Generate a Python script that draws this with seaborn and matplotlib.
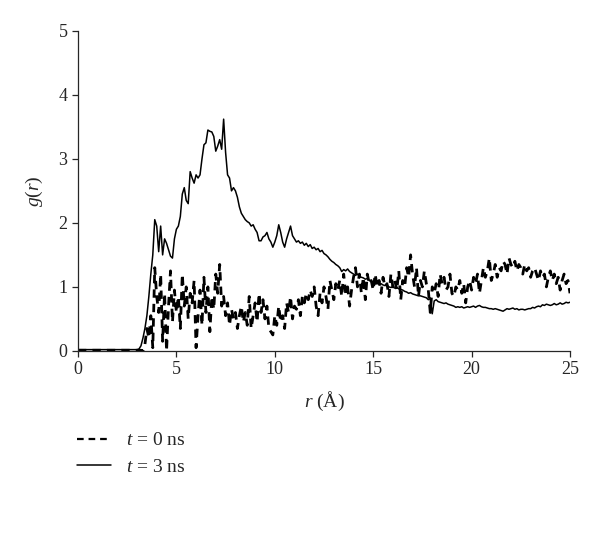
import numpy as np
import pandas as pd
import matplotlib
matplotlib.use("Agg")
import matplotlib.pyplot as plt
import seaborn as sns

# r grid in Å (0.0 .. 25.0, step 0.1)
r_values = np.round(np.arange(0, 251) * 0.1, 1)

# g(r) at t = 0 ns (one line per Å)
g_t0 = [
    0.01, 0.01, 0.01, 0.01, 0.01, 0.01, 0.01, 0.01, 0.01, 0.01,
    0.01, 0.01, 0.01, 0.01, 0.01, 0.01, 0.01, 0.01, 0.01, 0.01,
    0.01, 0.01, 0.01, 0.01, 0.01, 0.01, 0.01, 0.01, 0.01, 0.01,
    0.01, 0.01, 0.01, 0.00, 0.10, 0.35, 0.20, 0.55, 0.05, 1.30,
    0.85, 0.60, 1.20, 0.15, 0.90, 0.00, 0.70, 1.25, 0.45, 0.95,
    0.60, 0.85, 0.35, 1.20, 0.70, 1.00, 0.50, 0.90, 0.75, 1.10,
    0.05, 0.55, 0.95, 0.40, 1.15, 0.60, 1.00, 0.30, 0.85, 0.65,
    1.20, 0.90, 1.35, 0.70, 0.85, 0.55, 0.75, 0.40, 0.65, 0.50,
    0.60, 0.35, 0.55, 0.70, 0.45, 0.60, 0.40, 0.85, 0.35, 0.55,
    0.75, 0.45, 0.90, 0.60, 0.80, 0.50, 0.70, 0.35, 0.30, 0.25,
    0.55, 0.40, 0.70, 0.45, 0.55, 0.35, 0.75, 0.60, 0.85, 0.50,
    0.70, 0.65, 0.80, 0.55, 0.85, 0.75, 0.90, 0.80, 0.95, 0.85,
    1.00, 0.70, 0.55, 0.90, 0.75, 1.00, 0.85, 0.65, 1.10, 0.95,
    0.80, 1.05, 0.95, 1.10, 0.85, 1.20, 0.90, 1.00, 0.70, 0.95,
    1.15, 1.30, 1.00, 1.20, 0.90, 1.15, 0.80, 1.20, 1.05, 1.10,
    0.95, 1.20, 1.00, 1.10, 0.90, 1.15, 1.00, 1.05, 0.85, 1.20,
    1.00, 1.10, 0.95, 1.25, 0.80, 1.10, 1.00, 1.30, 1.15, 1.50,
    1.20, 1.00, 1.30, 0.85, 1.10, 1.00, 1.25, 1.05, 0.95, 0.60,
    1.00, 0.90, 1.05, 0.85, 1.20, 1.05, 1.15, 0.95, 1.00, 1.20,
    0.90, 0.85, 1.00, 0.95, 1.10, 0.90, 1.05, 0.75, 1.00, 1.10,
    0.95, 1.15, 1.05, 1.20, 0.90, 1.10, 1.30, 1.15, 1.25, 1.45,
    1.10, 1.20, 1.35, 1.15, 1.30, 1.25, 1.40, 1.35, 1.20, 1.45,
    1.35, 1.30, 1.40, 1.25, 1.35, 1.30, 1.20, 1.35, 1.25, 1.30,
    1.15, 1.25, 1.30, 1.20, 1.10, 1.25, 1.15, 1.20, 1.00, 1.15,
    1.25, 1.10, 1.20, 1.05, 1.15, 0.95, 1.10, 1.20, 1.05, 1.10,
    0.90,
]

# g(r) at t = 3 ns (one line per Å)
g_t3 = [
    0.02, 0.02, 0.02, 0.02, 0.02, 0.02, 0.02, 0.02, 0.02, 0.02,
    0.02, 0.02, 0.02, 0.02, 0.02, 0.02, 0.02, 0.02, 0.02, 0.02,
    0.02, 0.02, 0.02, 0.02, 0.02, 0.02, 0.02, 0.02, 0.02, 0.02,
    0.02, 0.03, 0.08, 0.20, 0.35, 0.55, 0.85, 1.20, 1.50, 2.05,
    1.95, 1.55, 1.95, 1.50, 1.75, 1.68, 1.58, 1.48, 1.45, 1.75,
    1.90, 1.95, 2.10, 2.45, 2.55, 2.35, 2.30, 2.80, 2.70, 2.62,
    2.75, 2.70, 2.75, 3.00, 3.22, 3.25, 3.45, 3.43, 3.42, 3.35,
    3.12, 3.20, 3.30, 3.15, 3.62, 3.10, 2.75, 2.70, 2.50, 2.55,
    2.50, 2.40, 2.25, 2.15, 2.10, 2.05, 2.02, 2.00, 1.95, 1.97,
    1.90, 1.85, 1.72, 1.72, 1.78, 1.80, 1.85, 1.75, 1.70, 1.62,
    1.70, 1.80, 1.97, 1.85, 1.70, 1.62, 1.75, 1.85, 1.95, 1.80,
    1.75, 1.70, 1.72, 1.68, 1.70, 1.65, 1.68, 1.63, 1.66, 1.60,
    1.62, 1.58, 1.60, 1.55, 1.57, 1.52, 1.50, 1.47, 1.43, 1.40,
    1.38, 1.35, 1.33, 1.30, 1.24, 1.27, 1.25, 1.28, 1.24, 1.22,
    1.20, 1.18, 1.20, 1.16, 1.15, 1.14, 1.12, 1.13, 1.10, 1.08,
    1.07, 1.05, 1.06, 1.04, 1.05, 1.03, 1.02, 1.03, 1.00, 0.99,
    1.00, 0.98, 0.99, 0.97, 0.96, 0.95, 0.93, 0.92, 0.90, 0.91,
    0.89, 0.88, 0.87, 0.86, 0.86, 0.85, 0.84, 0.83, 0.80, 0.82,
    0.58, 0.78, 0.80, 0.77, 0.76, 0.75, 0.74, 0.75, 0.73, 0.72,
    0.71, 0.70, 0.68, 0.69, 0.68, 0.69, 0.67, 0.68, 0.69, 0.68,
    0.69, 0.70, 0.68, 0.70, 0.71, 0.69, 0.68, 0.68, 0.67, 0.66,
    0.66, 0.65, 0.66, 0.65, 0.64, 0.63, 0.62, 0.64, 0.66, 0.65,
    0.66, 0.67, 0.65, 0.66, 0.64, 0.65, 0.65, 0.64, 0.65, 0.66,
    0.66, 0.68, 0.67, 0.69, 0.70, 0.69, 0.72, 0.71, 0.73, 0.72,
    0.71, 0.72, 0.74, 0.72, 0.73, 0.75, 0.73, 0.74, 0.76, 0.75,
    0.76,
]

x_ticks = [0, 5, 10, 15, 20, 25]
y_ticks = [0, 1, 2, 3, 4, 5]
label_t0 = r"$t$ = 0 ns"
label_t3 = r"$t$ = 3 ns"

df = pd.DataFrame({"r": r_values, "t0": g_t0, "t3": g_t3})

sns.set_style("ticks")
plt.rcParams["font.family"] = ["Liberation Serif", "DejaVu Serif"]
plt.rcParams["mathtext.fontset"] = "custom"
plt.rcParams["mathtext.it"] = "Liberation Serif:italic"
plt.rcParams["mathtext.rm"] = "Liberation Serif"

fig = plt.figure(figsize=(6, 5.5), dpi=100)
ax = fig.add_axes([0.13, 0.362, 0.82, 0.582])

sns.lineplot(data=df, x="r", y="t0", ax=ax, color="black", linewidth=2.0,
             linestyle=(0, (3.0, 2.2)), label=label_t0)
sns.lineplot(data=df, x="r", y="t3", ax=ax, color="black", linewidth=1.1,
             label=label_t3)

ax.set_xlim(0, 25)
ax.set_ylim(0, 5)
ax.set_xticks(x_ticks)
ax.set_yticks(y_ticks)
ax.tick_params(axis="both", labelsize=13, length=4, width=0.9, direction="out")
for s in ("top", "right"):
    ax.spines[s].set_visible(False)
for s in ("left", "bottom"):
    ax.spines[s].set_linewidth(0.9)

ax.set_xlabel(r"$r$ (Å)", fontsize=14, labelpad=8)
ax.set_ylabel(r"$g$($r$)", fontsize=14, labelpad=10)

handles, labels = ax.get_legend_handles_labels()
leg = ax.legend(handles, labels, loc="upper left", bbox_to_anchor=(0.128, 0.215),
                bbox_transform=fig.transFigure, frameon=False, fontsize=14,
                handlelength=1.75, handletextpad=0.8, labelspacing=0.45,
                borderaxespad=0, borderpad=0)
leg.get_lines()[0].set_linewidth(1.6)

fig.savefig("out.png", dpi=100)
